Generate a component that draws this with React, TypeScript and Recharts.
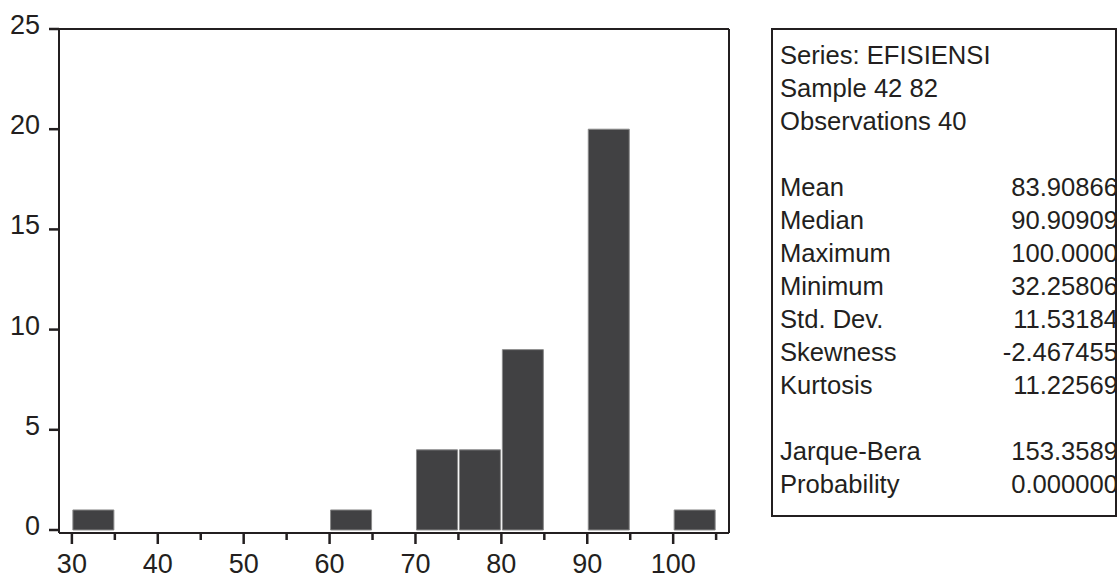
import React from "react";
import { BarChart, Bar, XAxis, YAxis } from "recharts";

// Histogram bins (width 5) – centre of each bin and count
const binCenters = [32.5, 37.5, 42.5, 47.5, 52.5, 57.5, 62.5, 67.5, 72.5, 77.5, 82.5, 87.5, 92.5, 97.5, 102.5];
const counts = [1, 0, 0, 0, 0, 0, 1, 0, 4, 4, 9, 0, 20, 0, 1];

const xTicks = [30, 35, 40, 45, 50, 55, 60, 65, 70, 75, 80, 85, 90, 95, 100, 105];
const xMajorLabels = [30, 40, 50, 60, 70, 80, 90, 100];
const yTicks = [0, 5, 10, 15, 20, 25];

const headerLines = ["Series: EFISIENSI", "Sample 42 82", "Observations 40"];
const statLabels = ["Mean", "Median", "Maximum", "Minimum", "Std. Dev.", "Skewness", "Kurtosis"];
const statValues = ["83.90866", "90.90909", "100.0000", "32.25806", "11.53184", "-2.467455", "11.22569"];
const testLabels = ["Jarque-Bera", "Probability"];
const testValues = ["153.3589", "0.000000"];

const data = binCenters.map((c, i) => ({ center: c, count: counts[i] }));

const FONT = "'Liberation Sans', Arial, Helvetica, sans-serif";
const INK = "#231f20";

const XTick = (props: any) => {
  const { x, y, payload } = props;
  const v = payload.value;
  const major = xMajorLabels.includes(v);
  return (
    <g>
      <line x1={x} x2={x} y1={y} y2={y + (major ? 11 : 7)} stroke={INK} strokeWidth={2.5} />
      {major && (
        <text x={x} y={y + 40} textAnchor="middle" fontSize={27} fontFamily={FONT} fill={INK}>
          {v}
        </text>
      )}
    </g>
  );
};

const YTick = (props: any) => {
  const { x, y, payload } = props;
  return (
    <g>
      <line x1={x - 10} x2={x} y1={y} y2={y} stroke={INK} strokeWidth={2.5} />
      <text x={x - 19} y={y + 5} textAnchor="end" fontSize={27} fontFamily={FONT} fill={INK}>
        {payload.value}
      </text>
    </g>
  );
};

const StatsBox = () => {
  const left = 772;
  const top = 29;
  const right = 1116;
  const bottom = 516;
  const lh = 33;
  const first = 64;
  const fs = 25.6;
  return (
    <svg
      width={1120}
      height={578}
      style={{ position: "absolute", left: 0, top: 0, pointerEvents: "none" }}
    >
      <g fontFamily={FONT} fontSize={fs} fill={INK}>
        {headerLines.map((t, i) => (
          <text key={t} x={780} y={first + i * lh}>
            {t}
          </text>
        ))}
        {statLabels.map((t, i) => (
          <text key={t} x={780} y={first + (4 + i) * lh}>
            {t}
          </text>
        ))}
        {statValues.map((t, i) => (
          <text key={"v" + i} x={1118} y={first + (4 + i) * lh} textAnchor="end">
            {t}
          </text>
        ))}
        {testLabels.map((t, i) => (
          <text key={t} x={780} y={first + (12 + i) * lh}>
            {t}
          </text>
        ))}
        {testValues.map((t, i) => (
          <text key={"t" + i} x={1118} y={first + (12 + i) * lh} textAnchor="end">
            {t}
          </text>
        ))}
      </g>
      <rect x={1117} y={0} width={3} height={578} fill="#ffffff" />
      <rect
        x={left}
        y={top}
        width={right - left}
        height={bottom - top}
        fill="none"
        stroke={INK}
        strokeWidth={2}
      />
    </svg>
  );
};

export default function App() {
  return (
    <div
      style={{
        position: "absolute",
        left: 0,
        top: 0,
        width: 1120,
        height: 578,
        background: "#ffffff",
      }}
    >
      <BarChart
        width={1120}
        height={578}
        data={data}
        margin={{ top: 28, right: 390, bottom: 0, left: 0 }}
        barCategoryGap={1}
        barGap={0}
      >
        <XAxis
          dataKey="center"
          type="number"
          domain={[28.5, 106.5]}
          ticks={xTicks}
          interval={0}
          allowDataOverflow
          height={45}
          tickLine={false}
          tickSize={0}
          tickMargin={0}
          axisLine={{ stroke: INK, strokeWidth: 2 }}
          tick={<XTick />}
        />
        <XAxis
          xAxisId="top"
          dataKey="center"
          type="number"
          orientation="top"
          domain={[28.5, 106.5]}
          allowDataOverflow
          height={1}
          tick={false}
          tickLine={false}
          axisLine={{ stroke: INK, strokeWidth: 2 }}
        />
        <YAxis
          type="number"
          domain={[-0.15, 25]}
          ticks={yTicks}
          interval={0}
          allowDataOverflow
          width={59}
          tickLine={false}
          tickSize={0}
          tickMargin={0}
          axisLine={{ stroke: INK, strokeWidth: 2 }}
          tick={<YTick />}
        />
        <YAxis
          yAxisId="right"
          orientation="right"
          type="number"
          domain={[-0.15, 25]}
          allowDataOverflow
          width={1}
          tick={false}
          tickLine={false}
          axisLine={{ stroke: INK, strokeWidth: 2 }}
        />
        <Bar
          dataKey="count"
          fill="#414143"
          stroke="#8a8a8a"
          strokeWidth={1}
          isAnimationActive={false}
        />
      </BarChart>
      <StatsBox />
    </div>
  );
}
